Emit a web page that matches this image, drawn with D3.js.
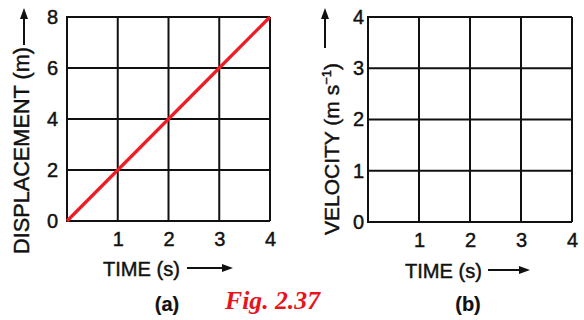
<!DOCTYPE html>
<html>
<head>
<meta charset="utf-8">
<script src="https://cdn.jsdelivr.net/npm/d3@7"></script>
<style>
html,body{margin:0;padding:0;background:#fff;}
svg{display:block;}
</style>
</head>
<body>
<svg id="c" width="584" height="320"></svg>
<script>
// Data
const timeVals = [0, 1, 2, 3, 4];
const displacementVals = [0, 2, 4, 6, 8];
const xTicks = [1, 2, 3, 4];
const yTicksA = [0, 2, 4, 6, 8];
const yTicksB = [0, 1, 2, 3, 4];
const labelsA = {x: "TIME (s)", y: "DISPLACEMENT (m)", cap: "(a)"};
const labelsB = {x: "TIME (s)", cap: "(b)"};
const figLabel = "Fig. 2.37";

const SANS = "'Liberation Sans', Arial, Helvetica, sans-serif";
const svg = d3.select("#c");

function styleText(sel, size) {
  sel.style("font-family", SANS).style("font-size", size + "px")
    .style("fill", "#111").style("stroke", "#111").style("stroke-width", "0.45px");
  return sel;
}

function panel(cfg) {
  const x = d3.scaleLinear().domain([0, 4]).range([cfg.left, cfg.right]);
  const y = d3.scaleLinear().domain(cfg.yDomain).range([cfg.bottom, cfg.top]);
  const g = svg.append("g");
  g.selectAll("line.v").data(xTicks).join("line")
    .attr("x1", d => x(d)).attr("x2", d => x(d))
    .attr("y1", y(cfg.yDomain[0])).attr("y2", y(cfg.yDomain[1]))
    .attr("stroke", "#111").attr("stroke-width", 2);
  g.selectAll("line.h").data(cfg.yTicks).join("line")
    .attr("x1", x(0)).attr("x2", x(4))
    .attr("y1", d => y(d)).attr("y2", d => y(d))
    .attr("stroke", "#111").attr("stroke-width", 2);
  g.append("line").attr("x1", x(0)).attr("x2", x(0))
    .attr("y1", y(cfg.yDomain[0]) + 1).attr("y2", y(cfg.yDomain[1]) - 1)
    .attr("stroke", "#111").attr("stroke-width", 2);
  const xa = g.append("g").attr("transform", `translate(0,${cfg.bottom + 11})`)
    .call(d3.axisBottom(x).tickValues(xTicks).tickSize(0).tickPadding(0).tickFormat(d3.format("d")));
  xa.select(".domain").remove();
  styleText(xa.selectAll("text"), 20);
  const ya = g.append("g").attr("transform", `translate(${cfg.left - cfg.yPad},0)`)
    .call(d3.axisLeft(y).tickValues(cfg.yTicks).tickSize(0).tickPadding(0).tickFormat(d3.format("d")));
  ya.select(".domain").remove();
  styleText(ya.selectAll("text"), 20);
  return {x, y, g};
}

function hArrow(x1, x2, yy) {
  svg.append("line").attr("x1", x1).attr("x2", x2 - 8).attr("y1", yy).attr("y2", yy)
    .attr("stroke", "#111").attr("stroke-width", 2);
  svg.append("path").attr("d", `M${x2},${yy} L${x2 - 11},${yy - 4} L${x2 - 11},${yy + 4} Z`).attr("fill", "#111");
}
function vArrow(xx, y1, y2) {
  svg.append("line").attr("x1", xx).attr("x2", xx).attr("y1", y1).attr("y2", y2 + 8)
    .attr("stroke", "#111").attr("stroke-width", 2);
  svg.append("path").attr("d", `M${xx},${y2} L${xx - 4},${y2 + 11} L${xx + 4},${y2 + 11} Z`).attr("fill", "#111");
}

// Panel (a)
const A = panel({left: 67, right: 270, top: 17, bottom: 221, yDomain: [0, 8], yTicks: yTicksA, yPad: 9});
const line = d3.line().x(d => A.x(d[0])).y(d => A.y(d[1]));
A.g.append("path").datum(timeVals.map((t, i) => [t, displacementVals[i]]))
  .attr("d", line).attr("fill", "none").attr("stroke", "#ee1c24").attr("stroke-width", 3.2);

styleText(svg.append("text").attr("x", 103).attr("y", 276)
  .attr("textLength", 77).attr("lengthAdjust", "spacingAndGlyphs").text(labelsA.x), 20.5);
hArrow(187, 233, 268);
styleText(svg.append("text").attr("transform", "translate(29,254) rotate(-90)")
  .attr("textLength", 207).attr("lengthAdjust", "spacingAndGlyphs").text(labelsA.y), 22);
vArrow(24, 45, 8);

// Panel (b)
const B = panel({left: 368, right: 572, top: 17, bottom: 222, yDomain: [0, 4], yTicks: yTicksB, yPad: 4});
styleText(svg.append("text").attr("x", 405).attr("y", 278)
  .attr("textLength", 77).attr("lengthAdjust", "spacingAndGlyphs").text(labelsB.x), 20.5);
hArrow(488, 530, 270);
const vt = styleText(svg.append("text").attr("transform", "translate(339,235) rotate(-90)"), 21);
vt.append("tspan").text("VELOCITY (m s");
vt.append("tspan").attr("dy", -8).style("font-size", "13px").text("−1");
vt.append("tspan").attr("dy", 8).text(")");
vArrow(325, 48, 8);

// captions
styleText(svg.append("text").attr("x", 167).attr("y", 311).attr("text-anchor", "middle")
  .style("font-weight", "bold").text(labelsA.cap), 20).style("stroke-width", "0.2px");
styleText(svg.append("text").attr("x", 468).attr("y", 311).attr("text-anchor", "middle")
  .style("font-weight", "bold").text(labelsB.cap), 20).style("stroke-width", "0.2px");
svg.append("text").attr("x", 225).attr("y", 309)
  .style("font-family", "'Liberation Serif', 'Times New Roman', serif").style("font-size", "25px")
  .style("font-style", "italic").style("font-weight", "bold").style("fill", "#e8141c")
  .attr("textLength", 95).attr("lengthAdjust", "spacingAndGlyphs").text(figLabel);
</script>
</body>
</html>
